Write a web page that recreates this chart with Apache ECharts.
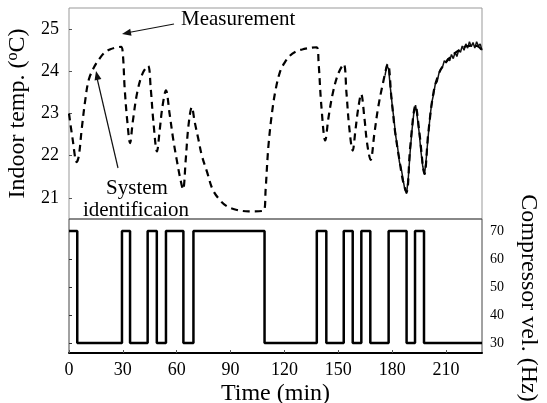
<!DOCTYPE html>
<html>
<head>
<meta charset="utf-8">
<script src="https://cdn.jsdelivr.net/npm/echarts@6/dist/echarts.min.js"></script>
<style>
  html, body { margin: 0; padding: 0; background: #fff; }
  #main { width: 547px; height: 403px; }
</style>
</head>
<body>
<div id="main"></div>
<script>
// model output (dashed), [time min, temp C]
var modelTemp = [
  [0, 23.0], [2, 22.4], [4.3, 21.85], [5.5, 22.0], [7, 22.6], [9, 23.3], [11, 23.8],
  [14, 24.1], [17, 24.3], [20, 24.45], [23, 24.52], [26, 24.56], [29, 24.58],
  [30, 24.4], [31, 23.6], [32.5, 22.8], [34, 22.3], [35.5, 22.8], [38, 23.5],
  [41, 23.95], [44, 24.13], [45.5, 23.6], [47, 22.8], [49, 22.1], [50.5, 22.6],
  [52, 23.15], [54, 23.55], [56, 23.0], [58, 22.4], [60, 21.9], [62, 21.45],
  [63.5, 21.2], [65, 21.9], [66.5, 22.7], [68.4, 23.15], [70, 22.8], [72, 22.4],
  [74, 22.0], [77, 21.6], [80, 21.2], [84, 20.95], [88, 20.8], [93, 20.72],
  [100, 20.68], [108.5, 20.7], [109.5, 21.2], [111, 22.2], [113, 23.0], [115, 23.55],
  [117.6, 24.0], [120, 24.2], [123, 24.37], [127, 24.48], [131, 24.53], [135, 24.56],
  [138, 24.57], [139, 24.2], [140.5, 23.2], [142.7, 22.36], [144.5, 22.9], [147, 23.5],
  [150, 23.95], [153, 24.17], [154.5, 23.5], [156, 22.7], [158, 22.12], [159.5, 22.6],
  [161, 23.1], [162.7, 23.46], [164.5, 22.9], [166, 22.3], [168, 21.9], [170, 22.5],
  [172, 23.1], [174.5, 23.65], [177.6, 24.17], [179.5, 23.4], [181.5, 22.6], [184, 21.9],
  [186, 21.4], [188, 21.14], [190, 22.2], [193, 23.19], [195, 22.6], [198, 21.57],
  [200, 22.5], [203, 23.5], [206, 23.95], [209, 24.17], [214, 24.4], [218, 24.52],
  [222, 24.6], [227, 24.6], [230, 24.5]
];

// measured temperature (solid), only the last part is visible
var measTime = [176, 177, 178, 179, 180, 181, 182, 183, 184, 185, 186, 187, 188, 189, 190,
  191, 192, 193, 194, 195, 196, 197, 198, 199, 200, 201, 202, 203, 204, 205, 206, 207, 208,
  209, 210, 211, 212, 213, 214, 215, 216, 217, 218, 219, 220, 221, 222, 223, 224, 225, 226,
  227, 228, 229, 230];
var measTemp = [23.9, 24.15, 24.05, 23.6, 23.2, 22.85, 22.45, 22.2, 21.85, 21.7, 21.45, 21.2,
  21.1, 21.5, 22.1, 22.6, 23.0, 23.2, 22.9, 22.55, 22.1, 21.75, 21.55, 21.95, 22.45, 22.9,
  23.25, 23.45, 23.7, 23.75, 23.95, 24.05, 24.1, 24.25, 24.2, 24.3, 24.25, 24.4, 24.3, 24.45,
  24.35, 24.5, 24.45, 24.6, 24.5, 24.65, 24.55, 24.7, 24.58, 24.68, 24.55, 24.7, 24.6, 24.65,
  24.5];

// compressor speed steps: value holds from each time to the next
var compTime = [0, 4.6, 29.5, 34, 43.8, 48.9, 54, 63.7, 69.3, 108.9, 138, 143.3, 153, 158,
  162.8, 167.8, 178, 188, 192.7, 197.7, 230];
var compSpeed = [70, 30, 70, 30, 70, 30, 70, 30, 70, 30, 70, 30, 70, 30, 70, 30, 70, 30, 70,
  30, 30];

var timeTicks = [0, 30, 60, 90, 120, 150, 180, 210];
var tempTicks = [21, 22, 23, 24, 25];
var speedTicks = [30, 40, 50, 60, 70];

var serif = 'Liberation Serif';

var measData = measTime.map(function (t, i) { return [t, measTemp[i]]; });
var compData = compTime.map(function (t, i) { return [t, compSpeed[i]]; });

var chart = echarts.init(document.getElementById('main'));

function arrowHead(x, y, angle) {
  // small filled triangle pointing along angle (radians)
  var len = 9, w = 3.5;
  var bx = x - len * Math.cos(angle), by = y - len * Math.sin(angle);
  var px = -Math.sin(angle) * w, py = Math.cos(angle) * w;
  return {
    type: 'polygon',
    shape: { points: [[x, y], [bx + px, by + py], [bx - px, by - py]] },
    style: { fill: '#111' }
  };
}

chart.setOption({
  animation: false,
  backgroundColor: '#fff',
  textStyle: { fontFamily: serif },
  grid: [
    { left: 69, right: 65, top: 8, height: 211, show: true, borderColor: '#999', borderWidth: 1, outerBoundsMode: 'none' },
    { left: 69, right: 65, top: 219, height: 134, show: true, borderColor: '#444', borderWidth: 1, outerBoundsMode: 'none' }
  ],
  xAxis: [
    {
      gridIndex: 0, type: 'value', min: 0, max: 230, interval: 30,
      axisLine: { show: false }, axisTick: { show: false }, axisLabel: { show: false },
      splitLine: { show: false }
    },
    {
      gridIndex: 1, type: 'value', min: 0, max: 230, interval: 30,
      axisLine: { show: true, onZero: false, lineStyle: { color: '#000', width: 2 } },
      axisTick: { show: true, inside: true, length: 3, customValues: timeTicks, lineStyle: { color: '#555' } },
      axisLabel: { color: '#000', fontSize: 18, margin: 8, customValues: timeTicks, fontFamily: serif },
      splitLine: { show: false },
      name: 'Time (min)', nameLocation: 'middle', nameGap: 29,
      nameTextStyle: { color: '#000', fontSize: 24, fontFamily: serif }
    }
  ],
  yAxis: [
    {
      gridIndex: 0, type: 'value', min: 20.5, max: 25.5, position: 'left',
      axisLine: { show: false },
      axisTick: { show: true, inside: true, length: 3, customValues: tempTicks, lineStyle: { color: '#555' } },
      axisLabel: { color: '#000', fontSize: 18, margin: 10, customValues: tempTicks, fontFamily: serif },
      splitLine: { show: false },
      name: 'Indoor temp. ({s|o}C)', nameLocation: 'middle', nameGap: 30,
      nameTextStyle: {
        color: '#000', fontSize: 24, fontFamily: serif,
        rich: { s: { fontSize: 16, verticalAlign: 'top', padding: [0, 0, 10, 0], fontFamily: serif } }
      }
    },
    {
      gridIndex: 1, type: 'value', min: 26.4, max: 74.3, position: 'right',
      axisLine: { show: false },
      axisTick: { show: true, inside: false, length: 3, customValues: speedTicks, lineStyle: { color: '#333' } },
      axisLabel: { color: '#000', fontSize: 14, margin: 8, customValues: speedTicks, fontFamily: serif },
      splitLine: { show: false }
    }
  ],
  series: [
    {
      name: 'System identificaion', type: 'line', xAxisIndex: 0, yAxisIndex: 0,
      data: modelTemp, smooth: 0.35, showSymbol: false,
      lineStyle: { color: '#000', width: 2.2, type: [7, 5] }, z: 3
    },
    {
      name: 'Measurement', type: 'line', xAxisIndex: 0, yAxisIndex: 0,
      data: measData, showSymbol: false,
      lineStyle: { color: '#111', width: 1.5 }, z: 2
    },
    {
      name: 'Compressor', type: 'line', xAxisIndex: 1, yAxisIndex: 1,
      data: compData, step: 'end', showSymbol: false,
      lineStyle: { color: '#000', width: 2.5 }
    }
  ],
  graphic: [
    { type: 'text', left: 181, top: 9, style: { text: 'Measurement', fontSize: 21, fontFamily: serif, fill: '#000' } },
    { type: 'line', shape: { x1: 174, y1: 24, x2: 126, y2: 33 }, style: { stroke: '#111', lineWidth: 1.2 } },
    arrowHead(122, 34, Math.atan2(34 - 24, 122 - 174)),
    { type: 'text', x: 137, y: 188, style: { text: 'System', fontSize: 21, fontFamily: serif, fill: '#000', align: 'center', verticalAlign: 'middle' } },
    { type: 'text', x: 136, y: 210, style: { text: 'identificaion', fontSize: 21, fontFamily: serif, fill: '#000', align: 'center', verticalAlign: 'middle' } },
    { type: 'line', shape: { x1: 118, y1: 168, x2: 97, y2: 78 }, style: { stroke: '#111', lineWidth: 1.2 } },
    arrowHead(96, 71, Math.atan2(71 - 168, 96 - 118)),
    {
      type: 'text', x: 528, y: 298, rotation: -Math.PI / 2,
      style: { text: 'Compressor vel. (Hz)', fontSize: 24, fontFamily: serif, fill: '#000', align: 'center', verticalAlign: 'middle' }
    }
  ]
});
</script>
</body>
</html>
